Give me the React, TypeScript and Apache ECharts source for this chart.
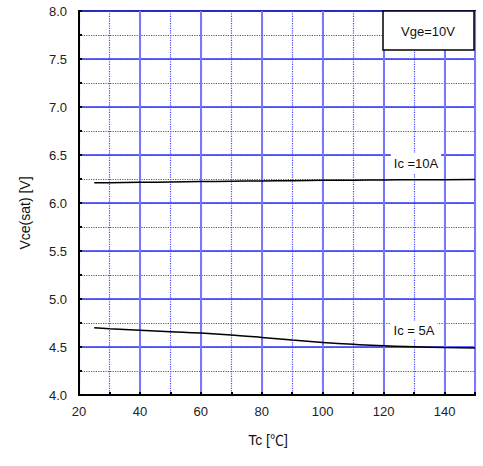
import React, { useEffect, useRef } from "react";
import * as echarts from "echarts";

const temps = [25, 30, 40, 50, 60, 70, 80, 90, 100, 110, 120, 130, 140, 150];
const ic5A = [4.7, 4.69, 4.675, 4.66, 4.645, 4.625, 4.6, 4.572, 4.548, 4.528, 4.512, 4.502, 4.495, 4.49];
const ic10A = [6.21, 6.212, 6.215, 6.219, 6.223, 6.227, 6.23, 6.233, 6.236, 6.238, 6.24, 6.242, 6.243, 6.244];
const labelFont = "'Liberation Sans', Arial, sans-serif";
const dotted = { show: true, lineStyle: { color: "rgb(70, 70, 255)", opacity: 1, width: 1.2, type: "dotted" } };

export default function App() {
  const ref = useRef<HTMLDivElement>(null);
  useEffect(() => {
    if (!ref.current) return;
    const chart = echarts.init(ref.current, null, { renderer: "svg" });
    const toPairs = (ys: number[]) => temps.map((t, i) => [t, ys[i]]);
    const hiddenAxis = {
      axisLine: { show: false },
      axisTick: { show: false },
      axisLabel: { show: false },
      splitLine: dotted,
      z: 0,
    };
    chart.setOption({
      animation: false,
      backgroundColor: "#ffffff",
      textStyle: { fontFamily: labelFont },
      grid: {
        left: 79,
        top: 11,
        width: 396,
        height: 384,
        outerBoundsMode: "none",
        containLabel: false,
        show: true,
        borderColor: "#000",
        borderWidth: 2,
        backgroundColor: "transparent",
      },
      xAxis: [
        {
          type: "value",
          min: 20,
          max: 150,
          interval: 20,
          z: 3,
          axisLine: { show: true, lineStyle: { color: "#000", width: 2 } },
          axisTick: { show: true, inside: true, length: 3, lineStyle: { color: "#000", width: 2 } },
          minorTick: { show: true, splitNumber: 2, length: 3, lineStyle: { color: "#000", width: 2 } },
          axisLabel: { color: "#222", fontSize: 13, margin: 10, fontFamily: labelFont, showMaxLabel: false },
          splitLine: { show: true, lineStyle: { color: "#7878ff", width: 2 } },
        },
        { type: "value", min: 20, max: 150, interval: 10, position: "top", ...hiddenAxis },
      ],
      yAxis: [
        {
          type: "value",
          min: 4,
          max: 8,
          interval: 0.5,
          z: 3,
          axisLine: { show: true, lineStyle: { color: "#000", width: 2 } },
          axisTick: { show: true, inside: true, length: 3, lineStyle: { color: "#000", width: 2 } },
          minorTick: { show: true, splitNumber: 2, length: 3, lineStyle: { color: "#000", width: 2 } },
          axisLabel: {
            color: "#222",
            fontSize: 13,
            margin: 12,
            fontFamily: labelFont,
            formatter: (v: number) => v.toFixed(1),
          },
          splitLine: { show: true, lineStyle: { color: "#3030ff", width: 1.5 } },
        },
        { type: "value", min: 4, max: 8, interval: 0.25, position: "right", ...hiddenAxis },
      ],
      series: [
        {
          name: "Ic=10A",
          type: "line",
          data: toPairs(ic10A),
          smooth: true,
          showSymbol: false,
          lineStyle: { color: "#000", width: 1.5 },
          z: 5,
        },
        {
          name: "Ic=5A",
          type: "line",
          data: toPairs(ic5A),
          smooth: true,
          showSymbol: false,
          lineStyle: { color: "#000", width: 1.5 },
          z: 5,
        },
      ],
      graphic: [
        {
          type: "rect",
          shape: { x: 383, y: 11, width: 91, height: 39 },
          style: { fill: "#fff", stroke: "#000", lineWidth: 1.5 },
          z: 100,
        },
        {
          type: "text",
          x: 428,
          y: 31,
          style: {
            text: "Vge=10V",
            align: "center",
            verticalAlign: "middle",
            fontSize: 13,
            fontFamily: labelFont,
            fill: "#111",
          },
          z: 101,
        },
        {
          type: "text",
          x: 416,
          y: 163,
          style: {
            text: "Ic =10A",
            align: "center",
            verticalAlign: "middle",
            fontSize: 13,
            fontFamily: labelFont,
            fill: "#111",
            backgroundColor: "#fff",
            padding: [4, 3, 3, 3],
          },
          z: 101,
        },
        {
          type: "text",
          x: 414,
          y: 330,
          style: {
            text: "Ic = 5A",
            align: "center",
            verticalAlign: "middle",
            fontSize: 13,
            fontFamily: labelFont,
            fill: "#111",
            backgroundColor: "#fff",
            padding: [3, 3, 2, 3],
          },
          z: 101,
        },
        {
          type: "text",
          x: 268,
          y: 440,
          style: {
            text: "Tc [℃]",
            align: "center",
            verticalAlign: "middle",
            fontSize: 14,
            fontFamily: "'Liberation Sans', 'Noto Sans CJK JP', sans-serif",
            fill: "#111",
          },
        },
        {
          type: "text",
          x: 25,
          y: 213,
          rotation: Math.PI / 2,
          style: {
            text: "Vce(sat) [V]",
            align: "center",
            verticalAlign: "middle",
            fontSize: 14,
            fontFamily: labelFont,
            fill: "#111",
          },
        },
      ],
    });
    return () => chart.dispose();
  }, []);
  return (
    <div
      ref={ref}
      style={{ position: "fixed", left: 0, top: 0, width: 483, height: 466, background: "#fff" }}
    />
  );
}
